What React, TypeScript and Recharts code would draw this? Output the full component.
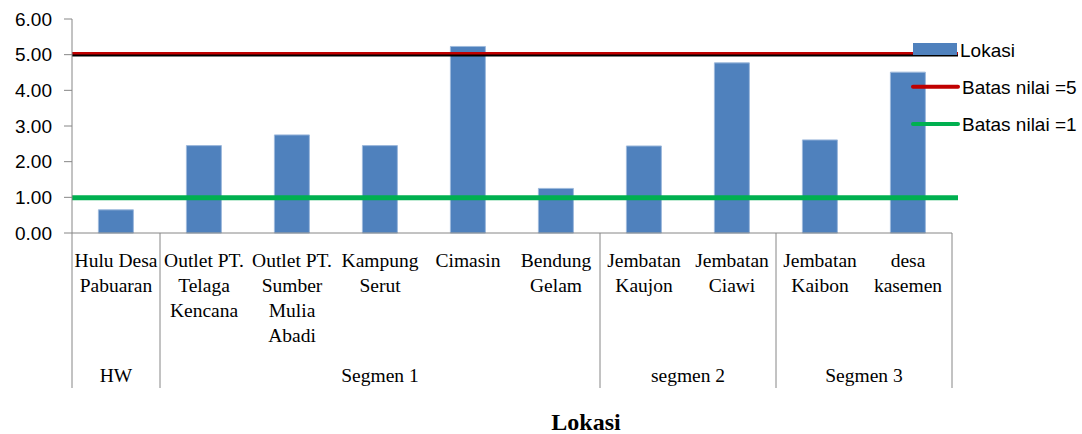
import React from 'react';
import { BarChart, Bar, XAxis, YAxis, ReferenceLine } from 'recharts';

const categoryLabels = [
  'Hulu Desa\nPabuaran',
  'Outlet PT.\nTelaga\nKencana',
  'Outlet PT.\nSumber\nMulia\nAbadi',
  'Kampung\nSerut',
  'Cimasin',
  'Bendung\nGelam',
  'Jembatan\nKaujon',
  'Jembatan\nCiawi',
  'Jembatan\nKaibon',
  'desa\nkasemen',
];
const lokasiValues = [0.65, 2.45, 2.75, 2.45, 5.23, 1.25, 2.44, 4.77, 2.61, 4.51];
const segmentNames = ['HW', 'Segmen 1', 'segmen 2', 'Segmen 3'];
const segmentSizes = [1, 5, 2, 2];
const batasAtas = 5;
const batasBawah = 1;
const yTicks = [0, 1, 2, 3, 4, 5, 6];
const legendLabels = ['Lokasi', 'Batas nilai =5', 'Batas nilai =1'];

const data = categoryLabels.map((name, i) => ({ name, lokasi: lokasiValues[i] }));

const W = 1082;
const H = 434;
const PLOT_LEFT = 72;
const PLOT_RIGHT = 952;
const BAND = (PLOT_RIGHT - PLOT_LEFT) / categoryLabels.length;
const AXIS_GREY = '#868686';
const BLUE = '#4F81BD';
const RED = '#C00000';
const GREEN = '#00B050';
const SERIF = '"Liberation Serif", "Times New Roman", serif';
const SANS = '"Liberation Sans", Arial, sans-serif';

// which segment a category belongs to, and where that segment starts
const segmentOf = (i: number) => {
  let start = 0;
  for (let s = 0; s < segmentSizes.length; s++) {
    if (i < start + segmentSizes[s]) return { s, start };
    start += segmentSizes[s];
  }
  return { s: segmentSizes.length - 1, start };
};

const CategoryTick = (props: any) => {
  const { x, y, payload } = props;
  const i = payload.index;
  const lines = categoryLabels[i].split('\n');
  const { s, start } = segmentOf(i);
  const isStart = i === start;
  const isLast = i === categoryLabels.length - 1;
  const left = x - BAND / 2;
  return (
    <g>
      {lines.map((t, k) => (
        <text
          key={k}
          x={x}
          y={y + 33.5 + k * 25.1}
          textAnchor="middle"
          fontFamily={SERIF}
          fontSize={19.5}
          fill="#000"
        >
          {t}
        </text>
      ))}
      {isStart && <line x1={left} x2={left} y1={y} y2={y + 155} stroke={AXIS_GREY} strokeWidth={1} />}
      {isStart && (
        <text
          x={left + (segmentSizes[s] * BAND) / 2}
          y={y + 148.5}
          textAnchor="middle"
          fontFamily={SERIF}
          fontSize={19.5}
          fill="#000"
        >
          {segmentNames[s]}
        </text>
      )}
      {isLast && (
        <line x1={x + BAND / 2} x2={x + BAND / 2} y1={y} y2={y + 155} stroke={AXIS_GREY} strokeWidth={1} />
      )}
    </g>
  );
};

// limit lines run a few px past the plot edge, as in the original
const limitLine = (color: string, width: number, dy: number) => (p: any) => (
  <line x1={p.x1} x2={p.x2 + 6} y1={p.y1 + dy} y2={p.y2 + dy} stroke={color} strokeWidth={width} />
);

const LegendBox = () => (
  <svg width={W} height={H} style={{ position: 'absolute', left: 0, top: 0, pointerEvents: 'none' }}>
    <rect x={913} y={43} width={44} height={12} fill={BLUE} />
    <text x={960} y={56.5} fontFamily={SANS} fontSize={19} fill="#000">{legendLabels[0]}</text>
    <line x1={913} x2={958} y1={86.7} y2={86.7} stroke={RED} strokeWidth={4} strokeLinecap="round" />
    <text x={962} y={94} fontFamily={SANS} fontSize={19} fill="#000">{legendLabels[1]}</text>
    <line x1={913} x2={958} y1={124} y2={124} stroke={GREEN} strokeWidth={4} strokeLinecap="round" />
    <text x={962} y={131} fontFamily={SANS} fontSize={19} fill="#000">{legendLabels[2]}</text>
  </svg>
);

export default function App() {
  return (
    <div style={{ position: 'absolute', left: 0, top: 0, width: W, height: H, background: '#fff' }}>
      <BarChart
        width={W}
        height={H}
        data={data}
        margin={{ top: 19, right: W - PLOT_RIGHT, bottom: 41, left: 0 }}
        barCategoryGap="30%"
      >
        <YAxis
          width={PLOT_LEFT}
          domain={[0, 6]}
          ticks={yTicks}
          tickFormatter={(v: number) => v.toFixed(2)}
          stroke={AXIS_GREY}
          tickSize={8}
          tickMargin={12}
          tick={{ fill: '#000', fontFamily: SANS, fontSize: 19 }}
          interval={0}
        />
        <XAxis
          dataKey="name"
          height={160}
          stroke={AXIS_GREY}
          tickLine={false}
          tickSize={0}
          tickMargin={0}
          interval={0}
          tick={<CategoryTick />}
        />
        <Bar dataKey="lokasi" fill={BLUE} stroke="#9DB9DC" strokeWidth={1} isAnimationActive={false} />
        <ReferenceLine y={batasAtas} shape={limitLine('#000', 2.5, 0.7)} />
        <ReferenceLine y={batasAtas} shape={limitLine(RED, 2.5, -1.5)} />
        <ReferenceLine y={batasBawah} shape={limitLine(GREEN, 5, 0.4)} />
      </BarChart>
      <LegendBox />
      <div
        style={{
          position: 'absolute',
          left: 0,
          top: 407,
          width: 1172,
          textAlign: 'center',
          fontFamily: SERIF,
          fontWeight: 'bold',
          fontSize: 24,
          lineHeight: '30px',
          color: '#000',
        }}
      >
        Lokasi
      </div>
    </div>
  );
}
